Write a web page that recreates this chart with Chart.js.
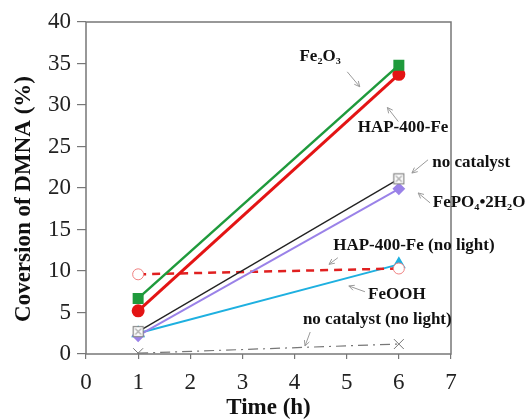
<!DOCTYPE html>
<html>
<head>
<meta charset="utf-8">
<script src="https://cdn.jsdelivr.net/npm/chart.js@4.4.1/dist/chart.umd.min.js"></script>
<style>
  html, body { margin: 0; padding: 0; background: #fff; }
  #wrap { width: 526px; height: 419px; }
</style>
</head>
<body>
<div id="wrap"><canvas id="convChart" width="526" height="419"></canvas></div>
<script>
// time points (h)
const times = [1, 6];
// conversion of DMNA (%) for each sample
const fe2o3 = [6.7, 34.8];
const hapFe = [5.2, 33.7];
const noCatalyst = [2.7, 21.1];
const fepo4 = [2.2, 19.9];
const hapFeNoLight = [9.6, 10.3];
const feooh = [2.5, 10.8];
const noCatalystNoLight = [0.1, 1.2];

const xTicks = [0, 1, 2, 3, 4, 5, 6, 7];
const yTicks = [0, 5, 10, 15, 20, 25, 30, 35, 40];

const yTitle = 'Coversion of DMNA (%)';

// label text, anchor and arrow (in data units)
const notes = [
    { text: 'Fe\u2082O\u2083', x: 4.49, y: 35.8, align: 'center', from: [5.01, 34.0], to: [5.25, 32.2] },
    { text: 'HAP-400-Fe', x: 6.08, y: 27.3, align: 'center', from: [5.99, 28.0], to: [5.78, 29.7] },
    { text: 'no catalyst', x: 6.64, y: 23.0, align: 'left', from: [6.56, 23.4], to: [6.25, 21.8] },
    { text: 'FePO\u2084\u20222H\u2082O', x: 6.65, y: 18.3, align: 'left', from: [6.60, 18.2], to: [6.37, 19.4] },
    { text: 'HAP-400-Fe (no light)', x: 4.74, y: 13.1, align: 'left', from: [4.83, 11.6], to: [4.66, 10.8] },
    { text: 'FeOOH', x: 5.41, y: 7.1, align: 'left', from: [5.35, 7.5], to: [5.04, 8.2] },
    { text: 'no catalyst (no light)', x: 4.16, y: 4.1, align: 'left', from: [4.30, 2.65], to: [4.20, 0.96] }
];

function toPoints(ys) {
    return times.map((t, i) => ({ x: t, y: ys[i] }));
}

// crossed open box for the "no catalyst" marker
const boxMark = document.createElement('canvas');
boxMark.width = 13; boxMark.height = 13;
(function() {
    const c = boxMark.getContext('2d');
    c.fillStyle = '#fff';
    c.fillRect(1, 1, 11, 11);
    c.strokeStyle = '#888';
    c.lineWidth = 1.2;
    c.strokeRect(1.5, 1.5, 10, 10);
    c.beginPath();
    c.moveTo(3.5, 3.5); c.lineTo(9.5, 9.5);
    c.moveTo(9.5, 3.5); c.lineTo(3.5, 9.5);
    c.strokeStyle = '#aaa';
    c.stroke();
})();

const notesPlugin = {
    id: 'notes',
    afterDatasetsDraw(chart) {
        const ctx = chart.ctx;
        const xs = chart.scales.x, ys = chart.scales.y;
        const a = chart.chartArea;
        ctx.save();
        // frame around plot
        ctx.strokeStyle = '#777';
        ctx.lineWidth = 1.5;
        ctx.strokeRect(a.left, a.top, a.right - a.left, a.bottom - a.top);

        notes.forEach(n => {
            // arrow
            const x1 = xs.getPixelForValue(n.from[0]), y1 = ys.getPixelForValue(n.from[1]);
            const x2 = xs.getPixelForValue(n.to[0]), y2 = ys.getPixelForValue(n.to[1]);
            const ang = Math.atan2(y2 - y1, x2 - x1);
            ctx.strokeStyle = '#9a9a9a';
            ctx.lineWidth = 1;
            ctx.beginPath();
            ctx.moveTo(x1, y1); ctx.lineTo(x2, y2);
            ctx.moveTo(x2 - 6 * Math.cos(ang - 0.45), y2 - 6 * Math.sin(ang - 0.45));
            ctx.lineTo(x2, y2);
            ctx.lineTo(x2 - 6 * Math.cos(ang + 0.45), y2 - 6 * Math.sin(ang + 0.45));
            ctx.stroke();
            // text
            ctx.fillStyle = '#111';
            ctx.font = 'bold 17px "Liberation Serif", serif';
            ctx.textAlign = n.align;
            ctx.textBaseline = 'middle';
            ctx.fillText(n.text, xs.getPixelForValue(n.x), ys.getPixelForValue(n.y));
        });

        // y axis title (sits a bit lower than the plot middle)
        ctx.translate(24, 199);
        ctx.rotate(-Math.PI / 2);
        ctx.font = 'bold 23px "Liberation Serif", serif';
        ctx.textAlign = 'center';
        ctx.textBaseline = 'middle';
        ctx.fillText(yTitle, 0, 0);
        ctx.restore();
    }
};

const ctx = document.getElementById('convChart').getContext('2d');
const convChart = new Chart(ctx, {
    type: 'line',
    data: {
        datasets: [
            {
                label: 'Fe2O3',
                data: toPoints(fe2o3),
                borderColor: '#1f9a3c',
                backgroundColor: '#1f9a3c',
                borderWidth: 2.5,
                pointStyle: 'rect',
                pointRadius: 6
            },
            {
                label: 'HAP-400-Fe',
                data: toPoints(hapFe),
                borderColor: '#e31414',
                backgroundColor: '#e31414',
                borderWidth: 3,
                pointStyle: 'circle',
                pointRadius: 5
            },
            {
                label: 'no catalyst',
                data: toPoints(noCatalyst),
                borderColor: '#222',
                backgroundColor: '#fff',
                borderWidth: 1.3,
                pointStyle: boxMark
            },
            {
                label: 'FePO4·2H2O',
                data: toPoints(fepo4),
                borderColor: '#9a82e8',
                backgroundColor: '#9a82e8',
                borderWidth: 2,
                pointStyle: 'rectRot',
                pointRadius: 5
            },
            {
                label: 'HAP-400-Fe (no light)',
                data: toPoints(hapFeNoLight),
                borderColor: '#e02020',
                backgroundColor: '#fff',
                pointBorderColor: '#f08080',
                borderWidth: 2.5,
                borderDash: [8, 6],
                pointStyle: 'circle',
                pointRadius: 5.5,
                pointBorderWidth: 1
            },
            {
                label: 'FeOOH',
                data: toPoints(feooh),
                borderColor: '#1eb0e0',
                backgroundColor: '#1eb0e0',
                borderWidth: 2,
                pointStyle: 'triangle',
                pointRadius: 6
            },
            {
                label: 'no catalyst (no light)',
                data: toPoints(noCatalystNoLight),
                borderColor: '#777',
                backgroundColor: '#777',
                borderWidth: 1.2,
                borderDash: [10, 5, 2, 5],
                pointStyle: 'crossRot',
                pointRadius: 7,
                pointBorderWidth: 1
            }
        ]
    },
    options: {
        responsive: false,
        animation: false,
        layout: { padding: { top: 22, right: 75 } },
        plugins: {
            legend: { display: false },
            tooltip: { enabled: false }
        },
        scales: {
            x: {
                type: 'linear',
                min: 0,
                max: 7,
                afterBuildTicks: axis => { axis.ticks = xTicks.map(v => ({ value: v })); },
                afterFit: axis => { axis.height = 65; },
                border: { display: false },
                grid: { drawOnChartArea: false, tickLength: 5, color: '#777', lineWidth: 1.2 },
                ticks: {
                    color: '#222',
                    padding: 10,
                    font: { family: '"Liberation Serif", serif', size: 23 }
                },
                title: {
                    display: true,
                    text: 'Time (h)',
                    color: '#111',
                    padding: 0,
                    font: { family: '"Liberation Serif", serif', size: 23, weight: 'bold', lineHeight: 0.95 }
                }
            },
            y: {
                min: 0,
                max: 40,
                afterBuildTicks: axis => { axis.ticks = yTicks.map(v => ({ value: v })); },
                afterFit: axis => { axis.width = 86; },
                border: { display: false },
                grid: { drawOnChartArea: false, tickLength: 9, color: '#777', lineWidth: 1.2 },
                ticks: {
                    color: '#222',
                    padding: 6,
                    font: { family: '"Liberation Serif", serif', size: 23 }
                }
            }
        }
    },
    plugins: [notesPlugin]
});
</script>
</body>
</html>
